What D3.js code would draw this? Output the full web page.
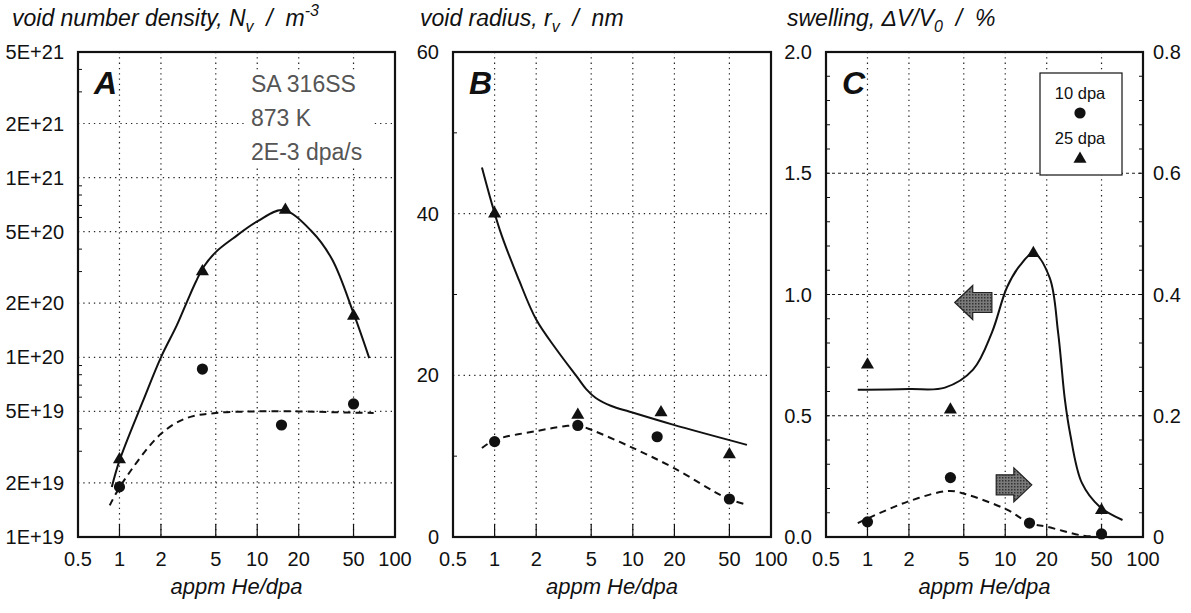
<!DOCTYPE html>
<html>
<head>
<meta charset="utf-8">
<script src="https://cdn.jsdelivr.net/npm/d3@7"></script>
<style>
  body { margin: 0; background: #fff; }
  svg { font-family: "Liberation Sans", Arial, Helvetica, sans-serif; }
</style>
</head>
<body>
<svg id="chart" width="1191" height="613"></svg>
<script>
// x axis shared by the three panels: appm He/dpa
var xTicks = [0.5, 1, 2, 5, 10, 20, 50, 100]
var xGrid = [1, 2, 5, 10, 20, 50]

// He/dpa of the measured points
var he10 = [1, 4, 15, 50]   // 10 dpa (circles)
var he25 = [1, 4, 16, 50]   // 25 dpa (triangles)

// A: void number density / m^-3
var densTicks = [1e19, 2e19, 5e19, 1e20, 2e20, 5e20, 1e21, 2e21, 5e21]
var densLabels = ["1E+19", "2E+19", "5E+19", "1E+20", "2E+20", "5E+20", "1E+21", "2E+21", "5E+21"]
var dens10 = [1.9e19, 8.6e19, 4.2e19, 5.5e19]
var dens25 = [2.7e19, 3.0e20, 6.6e20, 1.7e20]
var densFit25X = [0.88, 1, 1.48, 2, 2.6, 3.1, 3.6, 4.1, 5, 6.7, 10, 15.4, 25, 35, 50, 65]
var densFit25Y = [1.9e19, 2.66e19, 5.7e19, 1e20, 1.5e20, 2.05e20, 2.65e20, 3.2e20, 3.85e20, 4.6e20, 5.7e20, 6.6e20, 5.0e20, 3.5e20, 1.76e20, 9.9e19]
var densFit10X = [0.85, 1.05, 2, 3.1, 5, 10, 20, 35, 70]
var densFit10Y = [1.5e19, 2.0e19, 3.75e19, 4.6e19, 4.9e19, 5.0e19, 5.0e19, 4.95e19, 4.9e19]
var densNote = ["SA 316SS", "873 K", "2E-3 dpa/s"]

// B: void radius / nm
var radTicks = [0, 20, 40, 60]
var radMinor = [10, 30, 50]
var rad10 = [11.8, 13.8, 12.4, 4.7]
var rad25 = [40, 15.1, 15.4, 10.2]
var radFit25X = [0.81, 1.09, 1.5, 2, 2.83, 3.95, 4.6, 5.4, 7, 9.5, 19.5, 67]
var radFit25Y = [45.7, 38, 31.8, 26.9, 23.1, 19.8, 18.3, 17.2, 16.2, 15.5, 13.9, 11.4]
var radFit10X = [0.81, 1, 2, 3.2, 4, 5.1, 9.5, 19.5, 48, 67]
var radFit10Y = [11.0, 12, 13.1, 13.7, 13.8, 13.2, 11.2, 8.6, 4.8, 4.0]

// C: swelling / %  (25 dpa on left axis, 10 dpa on right axis)
var swellTicksL = [0, 0.5, 1.0, 1.5, 2.0]
var swellTicksR = [0, 0.2, 0.4, 0.6, 0.8]
var swell25 = [0.71, 0.525, 1.17, 0.11]
var swell10 = [0.025, 0.098, 0.023, 0.005]
var swellFit25X = [0.85, 2, 3.65, 5.84, 8, 10.3, 12.8, 16, 21, 24.2, 27.1, 29.5, 36, 48.7, 71]
var swellFit25Y = [0.607, 0.61, 0.616, 0.69, 0.843, 1.03, 1.12, 1.17, 1.07, 0.843, 0.566, 0.43, 0.223, 0.124, 0.07]
var swellFit10X = [0.85, 1.94, 3.9, 5.1, 10.3, 15, 20, 35, 42]
var swellFit10Y = [0.023, 0.058, 0.076, 0.071, 0.045, 0.023, 0.017, 0.003, 0.001]
var legendLabels = ["10 dpa", "25 dpa"]

var svg = d3.select("#chart")

var plotTop = 52, plotBottom = 537

var tri = d3.symbol().type(d3.symbolTriangle).size(74)

// stippled fill for the axis arrows
var pat = svg.append("defs").append("pattern")
  .attr("id", "stipple").attr("width", 3).attr("height", 3)
  .attr("patternUnits", "userSpaceOnUse")
pat.append("rect").attr("width", 3).attr("height", 3).attr("fill", "#7a7a7a")
pat.append("rect").attr("width", 1.5).attr("height", 1.5).attr("fill", "#333")

function zip(xs, ys) { return xs.map((x, i) => [x, ys[i]]) }

// frame, grid, ticks and labels of one panel
function drawPanel(p) {
  var g = svg.append("g")
  var x = p.x, y = p.y
  var x0 = x.range()[0], x1 = x.range()[1]

  // vertical grid
  g.selectAll(".vg").data(xGrid).enter().append("line")
    .attr("x1", d => x(d)).attr("x2", d => x(d))
    .attr("y1", plotTop).attr("y2", plotBottom)
    .attr("stroke", "#222").attr("stroke-width", 1.2)
    .attr("stroke-dasharray", "1.3,4")

  // horizontal grid
  g.selectAll(".hg").data(p.hGrid).enter().append("line")
    .attr("x1", x0).attr("x2", x1)
    .attr("y1", d => y(d)).attr("y2", d => y(d))
    .attr("stroke", "#222").attr("stroke-width", 1.2)
    .attr("stroke-dasharray", p.hDash || "1.3,4")

  // bottom ticks
  g.selectAll(".bt").data(xGrid).enter().append("line")
    .attr("x1", d => x(d)).attr("x2", d => x(d))
    .attr("y1", plotBottom).attr("y2", plotBottom - 13)
    .attr("stroke", "#111").attr("stroke-width", 1.2)

  // minor ticks on y
  g.selectAll(".mt").data(p.minor).enter().append("line")
    .attr("x1", x0).attr("x2", x0 + 4)
    .attr("y1", d => y(d)).attr("y2", d => y(d))
    .attr("stroke", "#111").attr("stroke-width", 1)

  // x labels
  g.selectAll(".xl").data(xTicks).enter().append("text")
    .attr("x", d => x(d)).attr("y", 566)
    .attr("text-anchor", "middle").attr("font-size", 20).attr("fill", "#111")
    .text(d => d)

  g.append("text")
    .attr("x", (x0 + x1) / 2).attr("y", 594)
    .attr("text-anchor", "middle").attr("font-size", 22)
    .attr("font-style", "italic").attr("fill", "#111")
    .text("appm He/dpa")

  // y labels
  g.selectAll(".yl").data(p.yTicks).enter().append("text")
    .attr("x", x0 - 14).attr("y", d => y(d)).attr("dy", "0.35em")
    .attr("text-anchor", "end").attr("font-size", 20).attr("fill", "#111")
    .text((d, i) => p.yLabels[i])

  // panel letter
  g.append("text")
    .attr("x", x0 + 16).attr("y", 94)
    .attr("font-size", 32).attr("font-weight", "bold").attr("font-style", "italic")
    .attr("fill", "#111")
    .text(p.letter)

  // title
  var t = g.append("text")
    .attr("x", p.titleX).attr("y", 26)
    .attr("font-size", 23).attr("font-style", "italic").attr("fill", "#111")
    .style("white-space", "pre")
  p.title.forEach(s => {
    var ts = t.append("tspan").text(s.t)
    if (s.sub) ts.attr("font-size", 16).attr("dy", 6)
    if (s.sup) ts.attr("font-size", 16).attr("dy", -10)
    if (s.back) ts.attr("dy", s.back)
  })

  return g
}

function drawFrame(g, x) {
  g.append("rect")
    .attr("x", x.range()[0]).attr("y", plotTop)
    .attr("width", x.range()[1] - x.range()[0]).attr("height", plotBottom - plotTop)
    .attr("fill", "none").attr("stroke", "#111").attr("stroke-width", 2.2)
}

function drawCurve(g, x, y, pts, dashed) {
  var line = d3.line().curve(d3.curveCatmullRom.alpha(0.5))
    .x(d => x(d[0])).y(d => y(d[1]))
  g.append("path").datum(pts)
    .attr("d", line)
    .attr("fill", "none").attr("stroke", "#111").attr("stroke-width", 2)
    .attr("stroke-dasharray", dashed ? "7,5" : null)
}

function drawPoints(g, x, y, xs, ys, shape) {
  var pts = zip(xs, ys)
  if (shape === "circle") {
    g.selectAll(null).data(pts).enter().append("circle")
      .attr("cx", d => x(d[0])).attr("cy", d => y(d[1]))
      .attr("r", 5.6).attr("fill", "#111")
  } else {
    g.selectAll(null).data(pts).enter().append("path")
      .attr("d", tri)
      .attr("transform", d => "translate(" + x(d[0]) + "," + y(d[1]) + ")")
      .attr("fill", "#111")
  }
}

// ---------- Panel A ----------
var xA = d3.scaleLog().domain([0.5, 100]).range([78, 395])
var yA = d3.scaleLog().domain([1e19, 5e21]).range([plotBottom, plotTop])
var minorA = []
;[1e19, 1e20, 1e21].forEach(dec => [3, 4, 6, 7, 8, 9].forEach(m => { if (m * dec < 5e21) minorA.push(m * dec) }))

var gA = drawPanel({
  x: xA, y: yA, hGrid: densTicks.slice(1, -1), minor: minorA,
  yTicks: densTicks, yLabels: densLabels, letter: "A", titleX: 12,
  title: [{t: "void number density, N"}, {t: "v", sub: true}, {t: "  /  m", back: -6}, {t: "-3", sup: true}]
})

// note block hides the grid behind it
var note = gA.append("g")
note.append("rect").attr("x", 247).attr("y", 70).attr("width", 124).attr("height", 95).attr("fill", "#fff")
note.selectAll("text").data(densNote).enter().append("text")
  .attr("x", 251).attr("y", (d, i) => 92 + i * 34)
  .attr("font-size", 23).attr("fill", "#555")
  .text(d => d)

drawCurve(gA, xA, yA, zip(densFit25X, densFit25Y), false)
drawCurve(gA, xA, yA, zip(densFit10X, densFit10Y), true)
drawPoints(gA, xA, yA, he25, dens25, "tri")
drawPoints(gA, xA, yA, he10, dens10, "circle")
drawFrame(gA, xA)

// ---------- Panel B ----------
var xB = d3.scaleLog().domain([0.5, 100]).range([453, 771])
var yB = d3.scaleLinear().domain([0, 60]).range([plotBottom, plotTop])

var gB = drawPanel({
  x: xB, y: yB, hGrid: [20, 40], minor: radMinor,
  yTicks: radTicks, yLabels: radTicks.map(String), letter: "B", titleX: 420,
  title: [{t: "void radius, r"}, {t: "v", sub: true}, {t: "  /  nm", back: -6}]
})
drawCurve(gB, xB, yB, zip(radFit25X, radFit25Y), false)
drawCurve(gB, xB, yB, zip(radFit10X, radFit10Y), true)
drawPoints(gB, xB, yB, he25, rad25, "tri")
drawPoints(gB, xB, yB, he10, rad10, "circle")
drawFrame(gB, xB)

// ---------- Panel C ----------
var xC = d3.scaleLog().domain([0.5, 100]).range([826, 1143])
var yC = d3.scaleLinear().domain([0, 2]).range([plotBottom, plotTop])
var yCR = d3.scaleLinear().domain([0, 0.8]).range([plotBottom, plotTop])

var gC = drawPanel({
  x: xC, y: yC, hGrid: [0.5, 1.0, 1.5], hDash: "3,3", minor: d3.range(0.1, 2, 0.1),
  yTicks: swellTicksL, yLabels: swellTicksL.map(d => d.toFixed(1)), letter: "C", titleX: 787,
  title: [{t: "swelling, \u0394V/V"}, {t: "0", sub: true}, {t: "  /  %", back: -6}]
})

// right axis
gC.selectAll(".rt").data(d3.range(0.04, 0.8, 0.04)).enter().append("line")
  .attr("x1", 1143).attr("x2", 1139)
  .attr("y1", d => yCR(d)).attr("y2", d => yCR(d))
  .attr("stroke", "#111").attr("stroke-width", 1)
gC.selectAll(".rl").data(swellTicksR).enter().append("text")
  .attr("x", 1153).attr("y", d => yCR(d)).attr("dy", "0.35em")
  .attr("font-size", 20).attr("fill", "#111")
  .text(d => d === 0 ? "0" : d.toFixed(1))

// arrows showing which axis a curve belongs to
function arrow(g, xa, xb, yv, dir) {
  var xl = xC(xa), xr = xC(xb), yc = yC(yv)
  var head = 18, hh = 17, bh = 10
  var d
  if (dir < 0) {
    d = `M${xl},${yc} L${xl + head},${yc - hh} L${xl + head},${yc - bh} L${xr},${yc - bh} L${xr},${yc + bh} L${xl + head},${yc + bh} L${xl + head},${yc + hh} Z`
  } else {
    d = `M${xr},${yc} L${xr - head},${yc - hh} L${xr - head},${yc - bh} L${xl},${yc - bh} L${xl},${yc + bh} L${xr - head},${yc + bh} L${xr - head},${yc + hh} Z`
  }
  g.append("path").attr("d", d)
    .attr("fill", "url(#stipple)").attr("stroke", "#222").attr("stroke-width", 1.2)
}
arrow(gC, 4.3, 8.0, 0.967, -1)
arrow(gC, 8.6, 15.6, 0.215, 1)

drawCurve(gC, xC, yC, zip(swellFit25X, swellFit25Y), false)
drawCurve(gC, xC, yCR, zip(swellFit10X, swellFit10Y), true)
drawPoints(gC, xC, yC, he25, swell25, "tri")
drawPoints(gC, xC, yCR, he10, swell10, "circle")

// legend
var lg = gC.append("g").attr("transform", "translate(1040,73)")
lg.append("rect").attr("width", 82).attr("height", 102)
  .attr("fill", "#fff").attr("stroke", "#111").attr("stroke-width", 1.2)
lg.selectAll("text").data(legendLabels).enter().append("text")
  .attr("x", 40).attr("y", (d, i) => 26 + i * 45)
  .attr("text-anchor", "middle").attr("font-size", 16.5).attr("fill", "#111")
  .text(d => d)
lg.append("circle").attr("cx", 40).attr("cy", 40).attr("r", 5.6).attr("fill", "#111")
lg.append("path").attr("d", tri).attr("transform", "translate(40,86)").attr("fill", "#111")

drawFrame(gC, xC)
</script>
</body>
</html>
